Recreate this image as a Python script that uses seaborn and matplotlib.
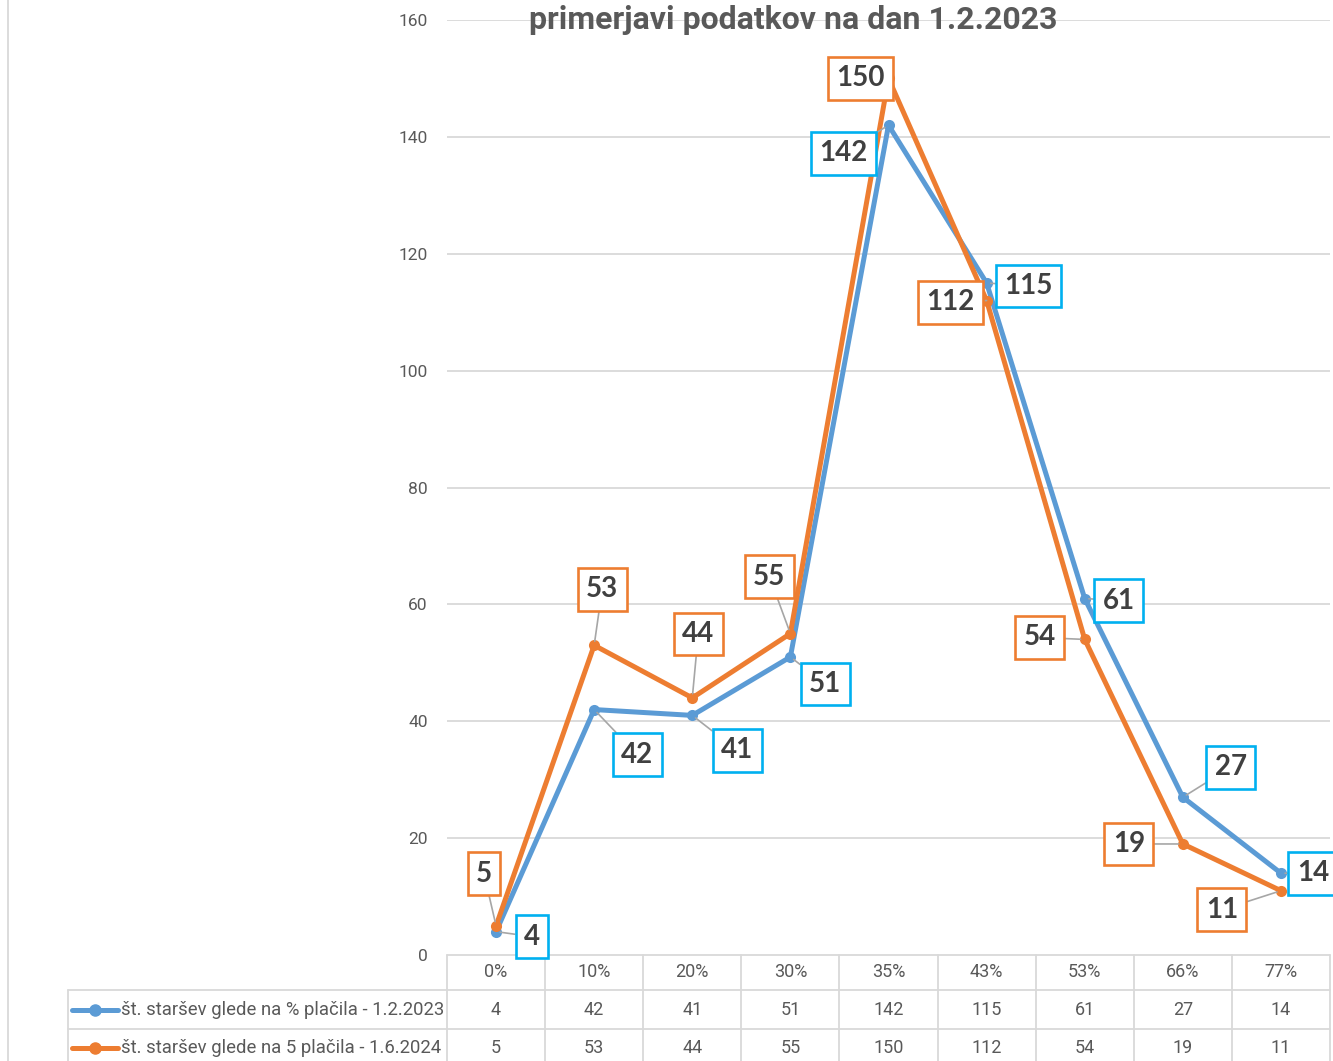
import matplotlib
matplotlib.use("Agg")
import matplotlib.pyplot as plt
import seaborn as sns
import pandas as pd
from matplotlib.lines import Line2D
import matplotlib.transforms as mtrans

categories = ["0%", "10%", "20%", "30%", "35%", "43%", "53%", "66%", "77%"]
series_a_name = "št. staršev glede na % plačila - 1.2.2023"
series_b_name = "št. staršev glede na 5 plačila - 1.6.2024"
series_a = [4, 42, 41, 51, 142, 115, 61, 27, 14]
series_b = [5, 53, 44, 55, 150, 112, 54, 19, 11]
title = "primerjavi podatkov na dan 1.2.2023"
yticks = [0, 20, 40, 60, 80, 100, 120, 140, 160]

# label offsets in pixels (style only)
off_a = [(36, -5), (43, -45), (45, -35), (35, -27), (-45, -28), (42, -3), (34, -2), (48, 30), (32, 0)]
off_b = [(-12, 52), (8, 56), (6, 64), (-21, 57), (-28, 0), (-36, -2), (-45, 2), (-54, 0), (-59, -19)]

c_a = "#5B9BD5"
c_b = "#ED7D31"
box_a = "#00B0F0"
box_b = "#ED7D31"
grid_c = "#D9D9D9"
txt_c = "#595959"

sns.set_style("white")
plt.rcParams['font.family'] = ['Roboto', 'DejaVu Sans']

df = pd.DataFrame({"cat": categories * 2,
                   "val": series_a + series_b,
                   "ser": [series_a_name] * len(categories) + [series_b_name] * len(categories)})

fig = plt.figure(figsize=(13.33, 10.61), dpi=100)
ax = fig.add_axes([447 / 1333, 1 - 955 / 1061, 883 / 1333, 935 / 1061])

sns.lineplot(data=df, x="cat", y="val", hue="ser", palette=[c_a, c_b], marker="o",
             markersize=8, markeredgewidth=0, linewidth=3.6, ax=ax, legend=False, sort=False)

ax.set_xlim(-0.5, len(categories) - 0.5)
ax.set_ylim(0, 160)
ax.set_yticks(yticks)
ax.set_yticklabels([str(t) for t in yticks], color=txt_c, fontsize=12.5)
ax.tick_params(axis="y", length=0, pad=14)
ax.set_xticks([])
ax.set_xlabel("")
ax.set_ylabel("")
for s in ax.spines.values():
    s.set_visible(False)
for t in yticks[1:]:
    ax.axhline(t, color=grid_c, lw=1.3, zorder=0)

ax.text((793 - 447) / 883, 1.0, title, transform=ax.transAxes, ha="center", va="center",
        fontsize=23, fontweight="bold", color=txt_c, zorder=1)

def labels(vals, offs, ec):
    for i, (v, (dx, dy)) in enumerate(zip(vals, offs)):
        ax.annotate(str(v), xy=(i, v), xytext=(dx * 0.72, dy * 0.72), textcoords="offset points",
                    ha="center", va="center", fontsize=20, fontweight="bold", color="#404040",
                    family=["Lato", "DejaVu Sans"],
                    bbox=dict(boxstyle="square,pad=0.3", facecolor="white", edgecolor=ec, lw=1.9),
                    arrowprops=dict(arrowstyle="-", color="#A6A6A6", lw=1.2, shrinkA=0, shrinkB=3),
                    zorder=5)

labels(series_a, off_a, box_a)
labels(series_b, off_b, box_b)

# data table
tr = mtrans.blended_transform_factory(ax.transData, ax.transAxes)
H = 935.0
def ay(py):
    return (955 - py) / H
left_x = (68 - 447) / 883.0
n = len(categories)
for i, c in enumerate(categories):
    ax.text(i, ay(972), c, transform=tr, ha="center", va="center", fontsize=13, color=txt_c, clip_on=False)
    ax.text(i, ay(1010), str(series_a[i]), transform=tr, ha="center", va="center", fontsize=13, color=txt_c, clip_on=False)
    ax.text(i, ay(1048), str(series_b[i]), transform=tr, ha="center", va="center", fontsize=13, color=txt_c, clip_on=False)

lk = dict(color=grid_c, lw=1.3, clip_on=False, transform=ax.transAxes)
ax.add_line(Line2D([0, 1], [0, 0], **lk))
for yy in (990, 1029):
    ax.add_line(Line2D([left_x, 1], [ay(yy), ay(yy)], **lk))
for k in range(n + 1):
    xx = k / n
    ax.add_line(Line2D([xx, xx], [0, ay(1061)], **lk))
ax.add_line(Line2D([left_x, left_x], [ay(990), ay(1061)], **lk))

# legend keys in table
for yy, col, name in ((1010, c_a, series_a_name), (1048, c_b, series_b_name)):
    x0 = (72 - 447) / 883.0
    x1 = (118 - 447) / 883.0
    ax.add_line(Line2D([x0, x1], [ay(yy), ay(yy)], color=col, lw=3.6, clip_on=False, transform=ax.transAxes))
    ax.add_line(Line2D([(x0 + x1) / 2], [ay(yy)], color=col, marker="o", markersize=8, clip_on=False,
                       transform=ax.transAxes))
    ax.text((121 - 447) / 883.0, ay(yy), name, transform=ax.transAxes, ha="left", va="center",
            fontsize=13.3, color=txt_c, clip_on=False)

# chart area left border
fig.add_artist(Line2D([8 / 1333, 8 / 1333], [0, 1], color=grid_c, lw=1.3, transform=fig.transFigure))

fig.savefig("out.png", dpi=100)
